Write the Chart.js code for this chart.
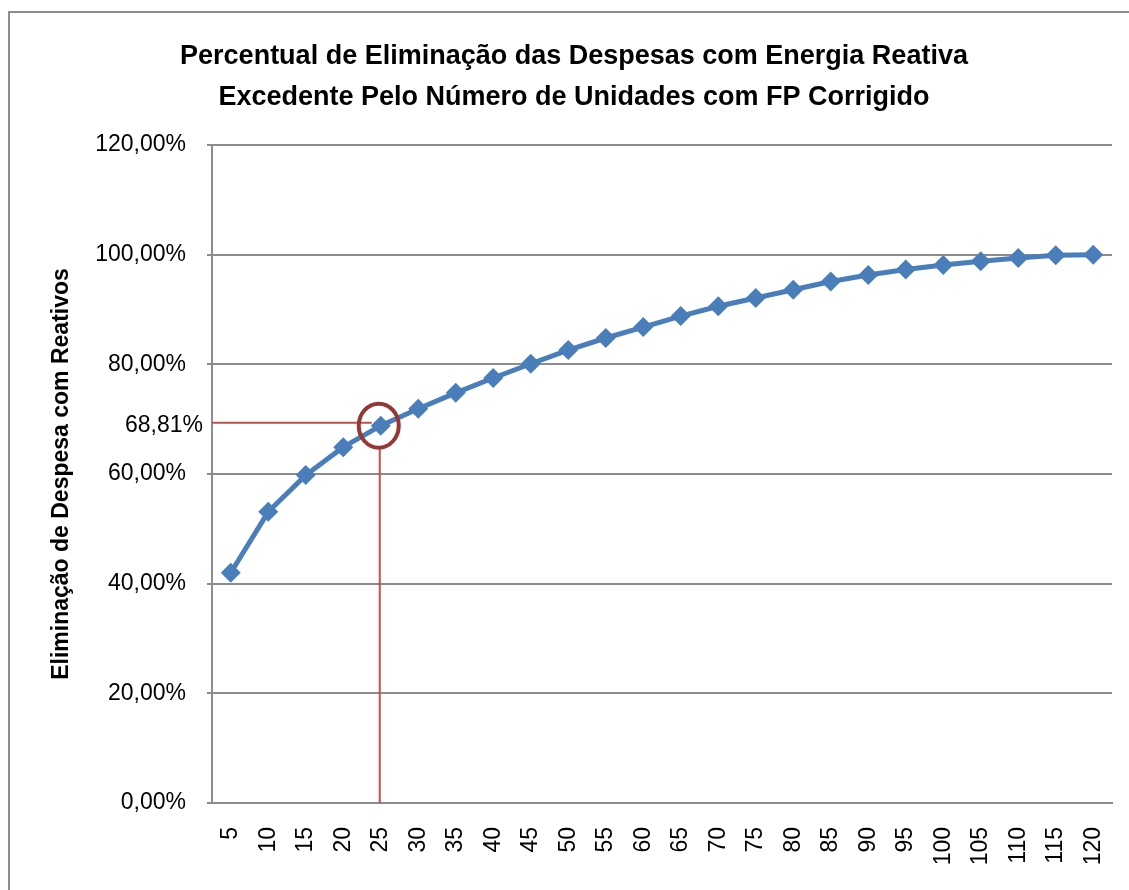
<!DOCTYPE html>
<html lang="pt-BR">
<head>
<meta charset="utf-8">
<title>Percentual de Eliminação das Despesas com Energia Reativa</title>
<script src="https://cdn.jsdelivr.net/npm/chart.js@4.4.1/dist/chart.umd.min.js"></script>
<style>
  html, body { margin: 0; padding: 0; background: #ffffff; overflow: hidden; }
  #frame {
    position: absolute; left: 8px; top: 11px; width: 1300px; height: 1000px;
    border: 2px solid #8c8c8c; box-sizing: border-box;
  }
  #wrap { position: absolute; left: 0; top: 0; width: 1129px; height: 890px; }
</style>
</head>
<body>
<div id="frame"></div>
<div id="wrap"><canvas id="chart" width="1129" height="890"></canvas></div>
<script>
// Number of units with corrected power factor
const unidades = [5, 10, 15, 20, 25, 30, 35, 40, 45, 50, 55, 60, 65, 70, 75, 80, 85, 90, 95, 100, 105, 110, 115, 120];
// Share of reactive-energy expenses eliminated (%)
const eliminacao = [42.0, 53.1, 59.8, 64.9, 68.81, 71.9, 74.8, 77.5, 80.1, 82.6, 84.8, 86.8, 88.8, 90.6, 92.1, 93.6, 95.1, 96.3, 97.3, 98.1, 98.8, 99.4, 99.9, 100.0];
// Highlighted reading
const destaqueUnidades = 25;
const destaqueValor = 68.81;
// Y axis range and step (%)
const eixoY = { min: 0, max: 120, step: 20 };

const FONT = "'Liberation Sans', Arial, sans-serif";
const fmtPct = v => v.toFixed(2).replace('.', ',') + '%';

// Red guide lines, circle and value label for the highlighted reading
const destaquePlugin = {
  id: 'destaque',
  afterDatasetsDraw(chart) {
    const { ctx, chartArea, scales } = chart;
    const idx = unidades.indexOf(destaqueUnidades);
    const pt = chart.getDatasetMeta(0).data[idx];
    const px = pt.x;
    const py = scales.y.getPixelForValue(destaqueValor);
    ctx.save();
    ctx.strokeStyle = '#c0504d';
    ctx.lineWidth = 2;
    ctx.beginPath();
    ctx.moveTo(chartArea.left, py - 3);
    ctx.lineTo(px - 9, py - 3);
    ctx.moveTo(px - 1, py + 23);
    ctx.lineTo(px - 1, chartArea.bottom);
    ctx.stroke();
    ctx.strokeStyle = '#953735';
    ctx.lineWidth = 4;
    ctx.beginPath();
    ctx.ellipse(px - 2, py, 20, 22, 0, 0, Math.PI * 2);
    ctx.stroke();
    ctx.fillStyle = '#000000';
    ctx.font = '23px ' + FONT;
    ctx.textAlign = 'right';
    ctx.textBaseline = 'middle';
    ctx.fillText(fmtPct(destaqueValor), chartArea.left - 9, py);
    ctx.restore();
  }
};

new Chart(document.getElementById('chart'), {
  type: 'line',
  data: {
    labels: unidades.map(String),
    datasets: [{
      data: eliminacao,
      borderColor: '#4a7ebb',
      backgroundColor: '#4a7ebb',
      borderWidth: 5,
      tension: 0,
      pointStyle: 'rectRot',
      pointRadius: 10,
      pointBorderWidth: 0,
      pointBackgroundColor: '#4a7ebb',
      fill: false
    }]
  },
  options: {
    responsive: false,
    animation: false,
    events: [],
    layout: { padding: { left: 19, right: 0, top: 0, bottom: 0 } },
    plugins: {
      legend: { display: false },
      tooltip: { enabled: false },
      title: {
        display: true,
        text: ['Percentual de Eliminação das Despesas com Energia Reativa',
               'Excedente Pelo Número de Unidades com FP Corrigido'],
        color: '#000000',
        font: { family: FONT, size: 27, weight: 'bold', lineHeight: 41 / 27 },
        padding: { top: 36.5, bottom: 26.5 }
      }
    },
    scales: {
      x: {
        type: 'category',
        offset: true,
        grid: { display: true, drawOnChartArea: false, drawTicks: false },
        border: { display: true, color: '#8c8c8c', width: 2 },
        ticks: {
          color: '#000000',
          font: { family: FONT, size: 23 },
          minRotation: 90,
          maxRotation: 90,
          autoSkip: false,
          padding: 24
        },
        afterFit(scale) {
          scale.height = 87;
          scale.paddingLeft = 0;
          scale.paddingRight = 17;
        }
      },
      y: {
        min: eixoY.min,
        max: eixoY.max,
        grid: { color: '#8c8c8c', lineWidth: 2, tickLength: 5, tickColor: '#8c8c8c' },
        border: { display: true, color: '#8c8c8c', width: 2 },
        ticks: {
          stepSize: eixoY.step,
          color: '#000000',
          font: { family: FONT, size: 23 },
          padding: 21,
          callback: v => fmtPct(v)
        },
        title: {
          display: true,
          text: 'Eliminação de Despesa com Reativos',
          color: '#000000',
          font: { family: FONT, size: 23, weight: 'bold', lineHeight: 1.2 },
          padding: { top: 29, bottom: 0 }
        },
        afterFit(scale) { scale.width = 193; }
      }
    }
  },
  plugins: [destaquePlugin]
});
</script>
</body>
</html>
